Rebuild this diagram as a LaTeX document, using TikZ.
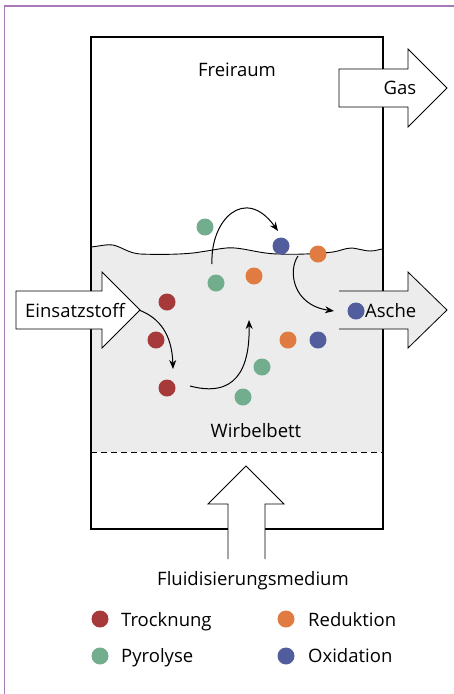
\documentclass[tikz,border=0pt]{standalone}
\usepackage{fontspec}
\setmainfont{Open Sans}
\usetikzlibrary{arrows.meta}
\definecolor{frame}{HTML}{A879B8}
\definecolor{bed}{HTML}{ECECEC}
\definecolor{cred}{HTML}{A63A3A}
\definecolor{cgreen}{HTML}{72AD8E}
\definecolor{corange}{HTML}{E07B42}
\definecolor{cblue}{HTML}{525D9E}
\begin{document}
\begin{tikzpicture}[x=1pt,y=-1pt,
  wall/.style={line width=2.4pt},
  blockarrow/.style={line width=0.8pt, fill=white, line join=miter},
  flow/.style={line width=1pt, -{Stealth[length=9pt,width=7pt]}},
  lbl/.style={inner sep=0pt, font=\fontsize{18.5}{21}\selectfont},
  dot/.style={circle, inner sep=0pt, minimum size=17pt}]
\useasboundingbox (0,0) rectangle (454,694);
\fill[white] (0,0) rectangle (454,694);
% frame
\draw[frame, line width=1.5pt] (4.5,694) -- (4.5,6) -- (454,6);
% bed fill
\fill[bed] (91,452) -- (91,247) .. controls (100,246) and (108,244) .. (113,245)
  .. controls (122,247) and (128,253) .. (140,254)
  .. controls (165,255) and (190,254) .. (200,252)
  .. controls (215,250) and (225,247) .. (235,248)
  .. controls (248,249) and (262,254) .. (280,254)
  .. controls (300,255) and (325,253) .. (333,252)
  .. controls (340,251) and (345,248) .. (352,248)
  .. controls (360,249) and (365,251) .. (370,251)
  .. controls (376,251) and (380,249) .. (383,249) -- (383,452) -- cycle;
\draw[line width=0.9pt] (91,247) .. controls (100,246) and (108,244) .. (113,245)
  .. controls (122,247) and (128,253) .. (140,254)
  .. controls (165,255) and (190,254) .. (200,252)
  .. controls (215,250) and (225,247) .. (235,248)
  .. controls (248,249) and (262,254) .. (280,254)
  .. controls (300,255) and (325,253) .. (333,252)
  .. controls (340,251) and (345,248) .. (352,248)
  .. controls (360,249) and (365,251) .. (370,251)
  .. controls (376,251) and (380,249) .. (383,249);
\draw[line width=0.9pt, dash pattern=on 6pt off 4pt] (91,452) -- (383,452);
% reactor walls
\draw[wall] (91,37) rectangle (383,529);
% Gas arrow
\draw[blockarrow] (339,69) -- (408,69) -- (408,49) -- (447,88) -- (408,127) -- (408,107) -- (339,107) -- cycle;
\node[lbl, anchor=base] (gas) at (400,94) {Gas};
% Einsatzstoff arrow
\draw[blockarrow] (16,291) -- (102,291) -- (102,272) -- (140,310) -- (102,348) -- (102,329) -- (16,329) -- cycle;
\node[lbl, anchor=base] (einsatz) at (75,317) {Einsatzstoff};
% Asche arrow
\fill[bed] (339,291) -- (408,291) -- (408,272) -- (447,310) -- (408,348) -- (408,329) -- (339,329) -- cycle;
\draw[line width=0.8pt, line join=miter] (339,291) -- (408,291) -- (408,272) -- (447,310) -- (408,348) -- (408,329) -- (339,329);
% Fluid arrow
\fill[white] (228,559) -- (228,504) -- (208,504) -- (246,466) -- (284,504) -- (265,504) -- (265,559) -- cycle;
\draw[line width=0.8pt, line join=miter] (228,559) -- (228,504) -- (208,504) -- (246,466) -- (284,504) -- (265,504) -- (265,559);
% dots
\node[dot, fill=cgreen] (g1) at (205,227) {};
\node[dot, fill=cblue] (b1) at (281,246) {};
\node[dot, fill=corange] (o1) at (318,254) {};
\node[dot, fill=cgreen] (g2) at (216,283) {};
\node[dot, fill=corange] (o2) at (254,276) {};
\node[dot, fill=cred] (r1) at (167,302) {};
\node[dot, fill=cred] (r2) at (156,340) {};
\node[dot, fill=cred] (r3) at (167,388) {};
\node[dot, fill=cgreen] (g3) at (262,367) {};
\node[dot, fill=cgreen] (g4) at (243,397) {};
\node[dot, fill=corange] (o3) at (288,340) {};
\node[dot, fill=cblue] (b2) at (318,340) {};
\node[dot, fill=cblue] (b3) at (356,311) {};
\node[lbl, anchor=base west] (asche) at (365,317) {Asche};
% flow arrows
\coordinate (c1s) at (212,264);
\coordinate (c1e) at (278,231);
\coordinate (c2s) at (298,256);
\coordinate (c2e) at (334,311);
\coordinate (c3s) at (139,310);
\coordinate (c3e) at (173,369);
\coordinate (c4s) at (190,386);
\coordinate (c4e) at (249,320);
\draw[flow] (c1s) .. controls (210,220) and (245,185) .. (c1e);
\draw[flow] (c2s) .. controls (288,270) and (292,305) .. (c2e);
\draw[flow] (c3s) .. controls (160,318) and (172,335) .. (c3e);
\draw[flow] (c4s) .. controls (235,398) and (250,370) .. (c4e);
% texts
\node[lbl, anchor=base] (frei) at (237,76) {Freiraum};
\node[lbl, anchor=base] (wirbel) at (256,437) {Wirbelbett};
\node[lbl, anchor=base] (fluid) at (253,585) {Fluidisierungsmedium};
% legend
\node[dot, fill=cred] (l1) at (100,619) {};
\node[dot, fill=cgreen] (l2) at (100,656) {};
\node[dot, fill=corange] (l3) at (286,619) {};
\node[dot, fill=cblue] (l4) at (286,656) {};
\node[lbl, anchor=base west] (t1) at (121,626) {Trocknung};
\node[lbl, anchor=base west] (t2) at (121,662) {Pyrolyse};
\node[lbl, anchor=base west] (t3) at (308,626) {Reduktion};
\node[lbl, anchor=base west] (t4) at (308,662) {Oxidation};
\end{tikzpicture}
\end{document}
